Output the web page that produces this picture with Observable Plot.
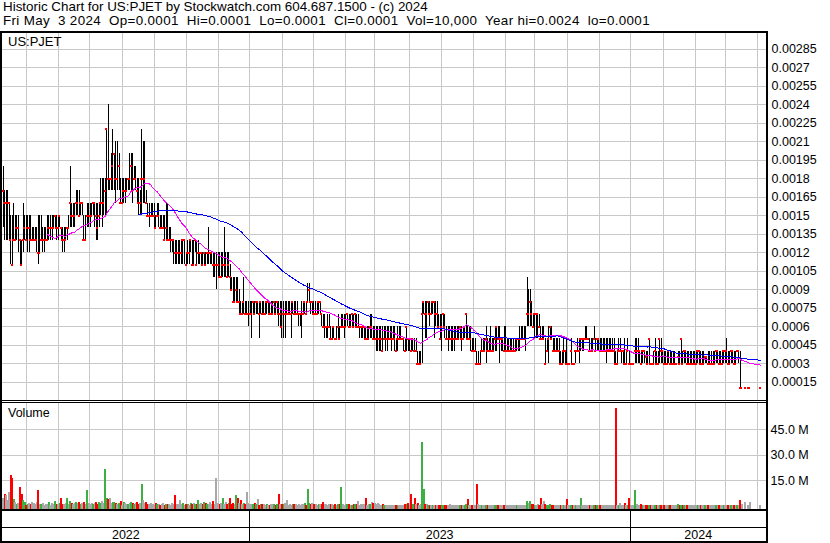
<!DOCTYPE html>
<html>
<head>
<meta charset="utf-8">
<script src="https://cdn.jsdelivr.net/npm/d3@7"></script>
<script src="https://cdn.jsdelivr.net/npm/@observablehq/plot@0.6"></script>
<style>
  html, body { margin: 0; padding: 0; background: #fff; }
  #chart { position: relative; width: 830px; height: 543px; overflow: hidden;
           font-family: "Liberation Sans", Arial, sans-serif; color: #000; }
  #hdr { position: absolute; left: 3px; top: 0px; font-size: 13.4px; line-height: 14px; white-space: pre; }
  #hdr .l2 { letter-spacing: 0.33px; }
  .panel { position: absolute; left: 0; }
  .panel svg { display: block; }
  .tag { position: absolute; font-size: 12.5px; white-space: pre; }
  .ln { position: absolute; background: #000; }
</style>
</head>
<body>
<div id="chart">
  <div id="hdr"><div>Historic Chart for US:PJET by Stockwatch.com 604.687.1500 - (c) 2024</div><div class="l2">Fri May  3 2024  Op=0.0001  Hi=0.0001  Lo=0.0001  Cl=0.0001  Vol=10,000  Year hi=0.0024  lo=0.0001</div></div>
  <div id="price" class="panel" style="top:31px"></div>
  <div id="volume" class="panel" style="top:401px"></div>
  <div id="years" class="panel" style="top:510px"></div>
  <div class="tag" style="left:8px;top:34px;font-size:13px">US:PJET</div>
  <div class="tag" style="left:8px;top:406px">Volume</div>
  <!-- panel frame -->
  <div class="ln" style="left:0;top:31px;width:768px;height:2px"></div>
  <div class="ln" style="left:0;top:31px;width:2px;height:512px"></div>
  <div class="ln" style="left:766px;top:31px;width:2px;height:512px"></div>
  <div class="ln" style="left:0;top:400px;width:768px;height:1px"></div>
  <div class="ln" style="left:0;top:402px;width:768px;height:1px"></div>
  <div class="ln" style="left:0;top:509px;width:768px;height:2px"></div>
  <div class="ln" style="left:0;top:527px;width:768px;height:1px"></div>
  <div class="ln" style="left:0;top:541px;width:768px;height:2px"></div>
</div>
<script>
// Daily bars, mid-May 2022 to May 3 2024 (one entry per trading day).
// Prices are in units of $0.0001; null = no trade that day.
const hi = [
  19,17,17,17,16,15,15,16,15,15, 15,13,13,16,15,15,15,15,15,14,
  14,14,14,15,15,15,14,14,14,15, 15,15,15,15,15,15,15,15,14,14,
  14,14,14,15,19,16,16,16,17,17, 17,16,16,15,15,16,16,16,16,16,
  16,16,16,16,18,18,18,18,22,24, 18,20,22,20,21,21,20,18,18,18,
  18,18,18,20,20,20,19,19,18,18, 17,22,21,21,17,16,16,16,16,16,
  15,16,16,15,15,15,15,16,16,14, 14,13,13,13,13,13,13,13,13,13,
  12,13,13,13,13,13,13,13,13,12, 12,12,12,12,12,14,12,12,12,12,
  12,12,12,12,12,14,12,12,12,11, 10,10,10,10,10,9,8,8,10,8,
  8,8,8,8,8,8,8,8,8,8, 8,8,8,8,8,8,8,8,8,8,
  8,8,8,8,8,8,8,8,8,8, 8,8,8,8,7,7,8,8,8,8,
  9.5,9.5,8,8,8,8,8,8,8,7, 7,7,6,7,7,6,6,6,5,6,
  7,6,7,7,7,7,7,7,7,7, 7,7,7,7,6,6,6,6,6,6,
  6,7,7,6,6,6,6,6,6,6, 6,6,6,6,6,6,6,6,5,6,
  6,6,5,5,5,6,5,5,5,5, 5,5,4,4,4,8,8,8,8,8,
  8,8,8,8,8,8,7,7,7,7, 7,6,6,6,6,6,6,6,6,6,
  6,6,6,6,7,6,6,6,5,5, 5,4,4,4,5,5,5,6,5,5,
  6,5,5,6,6,6,6,5,5,6, 6,5,5,5,5,5,5,5,5,6,
  6,6,6,6,10,9,9,8,7,7, 7,7,7,6,6,6,5,5,6,6,
  6,5,5,5,5,5,4,4,5,4, 5,3,3,5,3,3,4,5,5,5,
  5,5,6,6,5,5,5,5,6,5, 5,5,5,5,5,5,5,5,5,5,
  5,5,4,4,5,5,4,4,5,4, 5,4,3,3,3,5,5,5,4,4,
  4,4,4,4,5,3,3,4,5,4, 4,5,5,4,4,4,4,4,4,4,
  4,4,3,4,4,5,4,4,4,4, 4,4,4,4,4,4,4,4,4,4,
  4,3.5,3.5,4,4,4,4,4,4,4, 4,4,4,4,4,5,4,4,4,4,
  4,4,4,4,4,1,null,1,null,1, 1,null,null,null,null,null,null,1
];
const lo = [
  14,13,13,13,13,11,11,13,13,13, 12,11,11,12,13,13,12,12,13,13,
  13,13,12,11,12,13,12,12,13,13, 13,13,13,14,14,13,13,14,13,12,
  12,13,13,14,14,14,14,14,15,15, 15,15,15,13,13,14,14,14,15,15,
  14,13,13,14,15,14,15,15,15,17, 17,17,17,17,16,17,17,16,16,16,
  16,17,17,17,17,16,18,17,16,15, 15,15,16,16,16,15,14,15,15,14,
  14,15,14,14,14,14,13,13,13,13, 12,12,11,11,11,11,11,11,11,11,
  11,11,11,12,11,11,12,11,11,11, 11,11,11,11,11,11,11,11,10,10,
  9,10,10,10,10,10,10,10,10,9, 9,8,8,8,8,7,7,7,7,7,
  7,6,7,5,7,7,7,7,5,7, 7,7,7,7,7,7,7,7,7,7,
  7,6,6,5,5,5,7,7,7,5, 7,7,7,7,6,6,5,7,7,7,
  8,8,7,7,7,7,7,7,7,6, 6,5,5,5,6,5,5,5,5,5,
  5,5,6,6,5,6,6,6,6,6, 6,6,6,6,5,5,5,5,5,5,
  5,5,5,5,5,4,4,4,4,4, 5,4,4,5,5,4,5,4,4,4,
  5,5,5,4,4,4,4,4,4,4, 4,4,3,3,3,3,7,5,5,7,
  6,7,7,5,6,6,6,5,4,6, 5,5,4,5,4,4,4,5,5,5,
  5,4,5,5,5,5,5,4,4,4, 4,3,3,3,4,4,4,3,4,4,
  4,4,4,4,4,5,3,4,4,4, 4,4,4,4,4,4,4,4,4,4,
  5,5,5,4,6,6,6,6,6,5, 5,5,6,5,5,5,3,4,3,5,
  5,4,4,4,4,3,3,3,3,3, 3,3,3,3,3,3,3,4,3,4,
  4,4,5,5,5,4,4,4,5,4, 4,4,4,4,4,4,3,4,4,4,
  4,3,3,3,4,4,3,3,3,3, 4,3,3,3,3,3,3,3,3,3,
  3,3,3,3,3,3,3,3,3,3, 3,3,3,3,3,3,3,3,3,3,
  3,3,3,3,3,3,3,3,3,3, 3,3,3,3,3,3,3,3,3,3,
  3,3,3,3,3,3,3,3,3,3, 3,3,3,3,3,3,3,3,3,3,
  3,3,4,3,1,1,null,1,null,1, 1,null,null,null,null,null,null,1
];
const cl = [
  17,16,16,16,16,13,11,13,13,14, 14,13,11,13,14,13,14,14,13,13,
  13,13,13,12,12,13,13,13,13,13, 14,14,14,14,15,14,14,15,14,13,
  13,13,14,14,16,15,15,15,16,16, 15,16,16,13,13,15,15,15,15,16,
  16,15,14,15,16,16,16,17,22,18, 18,18,19,20,18,18,19,16,16,17,
  17,17,18,18,19,17,18,18,17,16, 16,18,18,18,16,15,15,15,15,15,
  14,15,15,14,14,14,13,14,13,13, 13,13,13,12,12,12,12,12,13,13,
  11,12,12,13,11,11,13,11,12,12, 12,11,12,11,12,12,12,12,11,11,
  11,11,10,10,11,11,11,10,11,10, 9,8,8,9,8,8,7,7,8,7,
  7,7,7,7,8,7,8,8,7,8, 7,7,7,8,8,7,7,7,8,7,
  8,7,7,6,7,7,7,7,7,7, 8,7,7,7,7,7,7,7,8,7,
  8,9,8,8,7,7,7,8,8,7, 6,6,6,6,6,5,5,6,5,5,
  6,5,6,6,6,6,7,6,6,7, 6,7,6,6,6,6,6,6,5,5,
  5,6,6,5,5,5,5,5,5,4, 5,5,5,5,5,5,5,5,4,5,
  5,5,5,5,4,6,5,5,4,5, 4,4,3,3,3,7,8,7,7,8,
  7,7,8,8,7,7,6,5,6,7, 6,5,5,5,5,5,5,5,5,5,
  6,5,5,6,7,5,5,5,4,4, 4,3,3,3,4,4,4,5,4,4,
  4,4,4,5,6,5,5,5,5,4, 4,4,4,4,4,4,4,5,5,5,
  5,5,5,5,7,7,8,7,6,7, 7,7,6,5,5,5,3,4,5,6,
  5,4,4,4,4,4,3,3,4,4, 3,3,3,4,3,3,4,4,4,5,
  5,5,5,5,5,4,4,4,5,4, 5,5,4,4,4,4,4,4,4,4,
  4,4,3,3,4,4,4,4,3,3, 4,3,3,3,3,4,4,4,4,3,
  4,4,3.5,3,5,3,3,3,4,3, 3,5,4,4,3,3,3,4,3,3,
  3,3,3,3.5,3,5,3,4,4,3, 3,3,3,3,3,3,4,4,3,3,
  3,3.5,3.5,3,3,3,3,3,4,4, 3,3,3,4,4,4,3,3,4,4,
  3,3,4,4,1,1,null,1,null,1, 1,null,null,null,null,null,null,1
];
// Daily volume, millions of shares
const vol = [
  4.2,6.6,6,3,8,18,16,4,2,1, 1.5,11,7,3,2,0.5,1,1.5,0.8,2,
  1.2,0.8,2,9,1,0.6,1.4,0.5,1,0.8, 2,0.3,1.5,0.8,2.5,1,0.6,1.2,4.5,1,
  0.8,1.5,4.2,0.6,2.5,1.2,0.8,1.5,2.2,1.5, 2.2,0.8,1.2,2.2,1,9,1.5,0.6,1.2,0.8,
  1.5,2.2,1,2.2,1.3,2.5,1.5,21.6,4.6,3.5, 4.6,1.2,2,2.2,1.5,0.8,1.2,2.5,0.3,2.2,
  1.3,1,0.8,1.5,2,1.2,0.8,1.3,2.2,1, 1.5,12.8,3,1.5,2.2,1,0.6,1.2,0.8,0.5,
  1.3,0.6,1,0.3,0.8,1.2,0.5,1,0.6,0.8, 0.5,1.2,0.8,6.2,1,0.6,3.2,0.8,1.2,0.5,
  1,0.6,0.3,1.2,0.8,1.5,0.6,1,3.2,0.8, 1.2,0.6,2.2,1.3,0.8,1,2.2,0.6,2.6,1,
  16.4,1.2,0.8,1.5,4.6,1,2.2,0.8,1.5,4.2, 1,1.5,0.8,6.2,4.6,1.2,3.2,0.8,1.5,1,
  8.2,1.2,0.8,1,0.6,1.2,0.8,3.6,0.5,1, 0.6,0.8,0.3,1,0.5,0.3,0.8,0.6,1,0.5,
  0.8,7,1,0.6,0.8,1.2,3.2,0.5,0.8,0.3, 1,0.6,0.8,0.5,1,0.3,0.8,0.6,1.2,0.5,
  10,1.5,0.8,1.3,0.6,0.8,0.5,1,0.6,0.8, 2.2,0.6,0.8,0.5,1,0.6,0.8,0.3,0.6,0.5,
  0.8,1,11,0.6,0.3,0.8,1,0.6,0.5,0.3, 0.8,0.6,1,2.6,0.5,0.8,0.6,1,4.2,0.5,
  0.8,0.6,2.2,1.3,1.3,1,1.3,0.6,0.5,0.8, 0.5,0.3,0.2,0.3,0.2,0.3,0.2,0.3,0.2,0.3,
  0.5,0.3,0.2,0.4,0.6,0.8,1.3,0.5,6.5,0.6, 4.6,0.8,1.3,0.5,0.6,37.7,9.5,0.8,0.6,0.5,
  0.2,0.4,0.3,0.5,0.3,0.4,0.3,0.5,0.4,0.3, 0.3,0.4,0.5,0.6,0.3,0.4,0.3,0.3,0.3,0.3,
  0.3,0.4,0.5,0.3,0.6,3.6,0.5,0.4,0.3,0.4, 0.5,12.7,0.6,0.4,0.3,0.5,0.3,0.4,0.3,0.5,
  0.3,0.4,0.3,0.5,0.4,0.3,0.4,0.3,0.5,0.4, 0.3,0.4,0.3,0.5,0.3,0.4,0.3,0.5,0.3,0.4,
  0.3,0.5,0.3,0.4,2.6,1.2,2.6,0.8,0.6,0.5, 0.4,0.6,0.5,4.6,0.8,2.6,0.6,0.5,0.4,0.6,
  0.3,0.5,0.4,0.3,0.5,0.4,0.3,0.4,0.3,0.5, 3.6,0.3,0.4,0.3,0.5,0.3,0.4,0.3,0.5,4.2,
  0.3,0.3,0.4,0.3,0.3,0.4,0.3,0.3,0.1,0.3, 0.3,0.4,0.3,0.3,0.1,0.3,0.4,0.3,0.3,0.4,
  0.3,0.4,57.8,0.5,0.3,1.3,0.4,0.3,1.3,0.4, 0.3,4.2,0.3,0.4,0.3,9,0.6,0.4,0.3,0.6,
  0.3,0.4,0.1,0.3,0.4,0.3,0.4,0.3,0.4,0.3, 0.3,0.4,0.3,0.3,0.4,0.3,0.1,0.3,0.4,0.3,
  0.3,0.4,0.3,1.1,0.3,0.4,0.3,0.3,0.4,0.3, 0.3,0.4,0.3,0.3,0.4,0.3,0.4,0.3,0.4,0.3,
  0.3,0.4,0.3,0.3,0.4,0.3,0.3,0.4,0.3,0.3, 0.3,0.4,0.3,0.3,0.4,0.3,0.3,0.4,0.3,0.4,
  0.3,0.4,0.3,0.4,3,1,null,1.8,null,0.5, 2.2,null,null,null,null,null,null,0.01
];
// First trading day of each month (bar index), and of each year
const monthStarts = [16, 37, 57, 79, 100, 121, 142, 162, 184, 204, 225, 244,
                     267, 288, 309, 330, 349, 371, 392, 412, 434, 455, 475, 496];
const yearLabels = ["2022", "2023", "2024"];
const yearStarts = [0, 162, 412];
// Axis ticks
const priceTicks = [0.00015, 0.0003, 0.00045, 0.0006, 0.00075, 0.0009, 0.00105, 0.0012,
  0.00135, 0.0015, 0.00165, 0.0018, 0.00195, 0.0021, 0.00225, 0.0024, 0.00255, 0.0027, 0.00285];
const volTicks = [15e6, 30e6, 45e6];
const maShort = 30, maLong = 90;

const UNIT = 0.0001;
const N = hi.length;
const X_DOMAIN = [0, 501.6];
const GRID = "#c8c8c8";
const FONT = "'Liberation Sans', Arial, sans-serif";

const bars = d3.range(N).filter(i => hi[i] != null)
  .map(i => ({x: i + 0.5, hi: hi[i] * UNIT, lo: lo[i] * UNIT, cl: cl[i] * UNIT}));

function movingAverage(k) {
  const out = [];
  for (let i = k - 1; i < N; i++) {
    const w = cl.slice(i - k + 1, i + 1).filter(v => v != null);
    out.push({x: i + 0.5, v: d3.mean(w) * UNIT});
  }
  return out;
}

// Volume bars coloured by the close versus the previous close
const volBars = [];
let prev = null;
for (let i = 0; i < N; i++) {
  if (vol[i] == null || cl[i] == null) continue;
  const c = prev == null || cl[i] === prev ? "#a8a8a8" : cl[i] > prev ? "#3cb043" : "#ff0000";
  volBars.push({x: i + 0.5, v: vol[i] * 1e6, c});
  prev = cl[i];
}

const common = {
  width: 830, marginLeft: 2, marginRight: 64,
  style: {fontFamily: FONT, fontSize: "12.5px", color: "#000", background: "transparent", overflow: "visible"}
};
const crisp = {shapeRendering: "crispEdges"};

const fmtPrice = d => String(+d.toFixed(5));

const price = Plot.plot({
  ...common, height: 370, marginTop: 1, marginBottom: 1,
  x: {domain: X_DOMAIN, axis: null},
  y: {domain: [0, 0.002985], axis: "right", ticks: priceTicks, tickFormat: fmtPrice, tickSize: 0, tickPadding: 5, label: null},
  marks: [
    Plot.ruleY(priceTicks, {stroke: GRID, ...crisp}),
    Plot.ruleX(monthStarts, {stroke: GRID, ...crisp}),
    Plot.ruleX(bars, {x: "x", y1: "lo", y2: "hi", stroke: "#000", ...crisp}),
    Plot.ruleY(bars, {x1: d => d.x - 0.66, x2: d => d.x + 0.66, y: "cl", stroke: "#ff0000", strokeWidth: 2, ...crisp}),
    Plot.line(movingAverage(maShort), {x: "x", y: "v", stroke: "#ff00ff", strokeWidth: 1, ...crisp}),
    Plot.line(movingAverage(maLong), {x: "x", y: "v", stroke: "#0000ff", strokeWidth: 1, ...crisp})
  ]
});
document.getElementById("price").append(price);

const VOL_FLOOR = -2.13e6;
const volume = Plot.plot({
  ...common, height: 110, marginTop: 2, marginBottom: 2,
  x: {domain: X_DOMAIN, axis: null},
  y: {domain: [VOL_FLOOR, 60.6e6], axis: "right", ticks: volTicks,
      tickFormat: d => (d / 1e6).toFixed(1) + " M", tickSize: 0, tickPadding: 4, label: null},
  color: {type: "identity"},
  marks: [
    Plot.ruleY(volTicks, {stroke: GRID, ...crisp}),
    Plot.ruleX(monthStarts, {stroke: GRID, ...crisp}),
    Plot.ruleX(volBars, {x: "x", y1: () => VOL_FLOOR, y2: "v", stroke: "c", strokeWidth: 2, ...crisp})
  ]
});
document.getElementById("volume").append(volume);

const yearSpans = yearLabels.map((label, k) => ({
  label, mid: (yearStarts[k] + (k + 1 < yearStarts.length ? yearStarts[k + 1] : X_DOMAIN[1])) / 2
}));
const years = Plot.plot({
  ...common, height: 31, marginTop: 0, marginBottom: 0,
  x: {domain: X_DOMAIN, axis: null},
  marks: [
    Plot.ruleX(yearStarts.slice(1), {stroke: "#000", ...crisp}),
    Plot.text(yearSpans, {x: "mid", text: "label", frameAnchor: "bottom", dy: -6.5, lineAnchor: "middle", fill: "#000"})
  ]
});
document.getElementById("years").append(years);
</script>
</body>
</html>
